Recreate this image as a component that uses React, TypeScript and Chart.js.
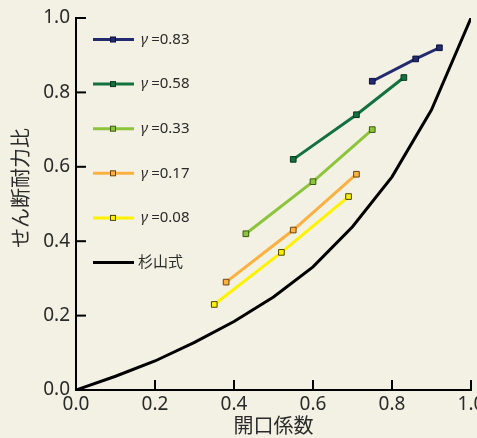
import React, { useEffect, useRef } from 'react';
import { Chart, registerables } from 'chart.js';
Chart.register(...registerables);

// ---- data ----
const gammaLabels = ['0.83', '0.58', '0.33', '0.17', '0.08'];
const g083X = [0.75, 0.86, 0.92];
const g083Y = [0.83, 0.89, 0.92];
const g058X = [0.55, 0.71, 0.83];
const g058Y = [0.62, 0.74, 0.84];
const g033X = [0.43, 0.6, 0.75];
const g033Y = [0.42, 0.56, 0.7];
const g017X = [0.38, 0.55, 0.71];
const g017Y = [0.29, 0.43, 0.58];
const g008X = [0.35, 0.52, 0.69];
const g008Y = [0.23, 0.37, 0.52];
const sugiyamaLabel = '杉山式';
const sugiyamaX = [0, 0.1, 0.2, 0.3, 0.4, 0.5, 0.6, 0.7, 0.8, 0.9, 1.0];
const sugiyamaY = [0, 0.037, 0.078, 0.128, 0.184, 0.25, 0.331, 0.439, 0.573, 0.753, 1.0];
const tickValues = [0, 0.2, 0.4, 0.6, 0.8, 1.0];
const xTitle = '開口係数';
const yTitle = 'せん断耐力比';

// ---- styles ----
const lineColors = ['#232b6e', '#137140', '#8cc43c', '#fbb040', '#fff200'];
const markerBorders = ['#0b1040', '#08361d', '#3c5a10', '#6a4510', '#4a4400'];
const BG = '#f3f1e3';
const FONT = "'Noto Sans', 'Noto Sans CJK JP', sans-serif";
const TEXT = '#2a2a2a';

const toPts = (xs: number[], ys: number[]) => xs.map((x, i) => ({ x, y: ys[i] }));

const seriesX = [g083X, g058X, g033X, g017X, g008X];
const seriesY = [g083Y, g058Y, g033Y, g017Y, g008Y];

const overlayPlugin = {
  id: 'overlay',
  afterDraw(chart: any) {
    const { ctx, chartArea, scales } = chart;
    const xs = scales.x;
    const ys = scales.y;
    ctx.save();
    // inward ticks
    ctx.strokeStyle = '#000';
    ctx.lineWidth = 2;
    tickValues.forEach((v) => {
      if (v === 0) return;
      const px = xs.getPixelForValue(v);
      ctx.beginPath();
      ctx.moveTo(px, chartArea.bottom);
      ctx.lineTo(px, chartArea.bottom - 10);
      ctx.stroke();
      const py = ys.getPixelForValue(v);
      ctx.beginPath();
      ctx.moveTo(chartArea.left, py);
      ctx.lineTo(chartArea.left + 10, py);
      ctx.stroke();
    });
    // legend
    const rowY0 = 39.5;
    const rowStep = 44.6;
    const lx0 = 93;
    const lx1 = 134;
    const items = [...gammaLabels.map((g, i) => ({ g, i })), { g: null as any, i: 5 }];
    items.forEach(({ g, i }) => {
      const y = rowY0 + i * rowStep;
      ctx.beginPath();
      ctx.strokeStyle = i < 5 ? lineColors[i] : '#000';
      ctx.lineWidth = 3;
      ctx.moveTo(lx0, y);
      ctx.lineTo(lx1, y);
      ctx.stroke();
      ctx.textBaseline = 'middle';
      ctx.textAlign = 'left';
      ctx.fillStyle = TEXT;
      if (i < 5) {
        ctx.fillStyle = lineColors[i];
        ctx.fillRect(110.5, y - 2.5, 5, 5);
        ctx.strokeStyle = markerBorders[i];
        ctx.lineWidth = 1;
        ctx.strokeRect(110.5, y - 2.5, 5, 5);
        ctx.fillStyle = TEXT;
        ctx.font = `italic 15px ${FONT}`;
        ctx.fillText('γ', 141, y);
        const w = ctx.measureText('γ').width;
        ctx.font = `15px ${FONT}`;
        ctx.fillText('=' + g, 141 + w + 3, y);
      } else {
        ctx.font = `15px ${FONT}`;
        ctx.fillText(sugiyamaLabel, 138, y);
      }
    });
    // y title
    ctx.translate(22, 188);
    ctx.rotate(-Math.PI / 2);
    ctx.textAlign = 'center';
    ctx.textBaseline = 'middle';
    ctx.font = `20px ${FONT}`;
    ctx.fillStyle = TEXT;
    ctx.fillText(yTitle, 0, 0);
    ctx.restore();
  },
};

export default function App() {
  const ref = useRef<HTMLCanvasElement | null>(null);
  useEffect(() => {
    if (!ref.current) return;
    const datasets: any[] = seriesX.map((xs, i) => ({
      label: 'γ =' + gammaLabels[i],
      data: toPts(xs, seriesY[i]),
      borderColor: lineColors[i],
      backgroundColor: lineColors[i],
      pointBackgroundColor: lineColors[i],
      pointBorderColor: markerBorders[i],
      pointBorderWidth: 1,
      pointStyle: 'rect',
      pointRadius: 4,
      borderWidth: 3,
      showLine: true,
      tension: 0,
    }));
    datasets.push({
      label: sugiyamaLabel,
      data: toPts(sugiyamaX, sugiyamaY),
      borderColor: '#000',
      backgroundColor: '#000',
      pointRadius: 0,
      borderWidth: 3,
      showLine: true,
      tension: 0,
    });
    const chart = new Chart(ref.current, {
      type: 'scatter',
      data: { datasets },
      options: {
        animation: false,
        responsive: true,
        maintainAspectRatio: false,
        layout: { padding: { top: 18, right: 6, left: 0, bottom: 0 } },
        plugins: { legend: { display: false }, tooltip: { enabled: false } },
        scales: {
          x: {
            type: 'linear',
            min: 0,
            max: 1,
            afterBuildTicks: (s: any) => {
              s.ticks = tickValues.map((v) => ({ value: v }));
            },
            afterFit: (s: any) => {
              s.height = 48;
              s.paddingRight = 0;
              s.paddingLeft = 0;
            },
            grid: { display: false, drawTicks: false },
            border: { display: true, color: '#000', width: 2 },
            ticks: {
              padding: 3,
              color: TEXT,
              font: { family: FONT, size: 19 },
              callback: (v: any) => Number(v).toFixed(1),
              maxRotation: 0,
            },
            title: {
              display: true,
              text: xTitle,
              color: TEXT,
              font: { family: FONT, size: 20, lineHeight: 1 },
              padding: { top: 0, bottom: 1 },
            },
          },
          y: {
            type: 'linear',
            min: 0,
            max: 1,
            afterBuildTicks: (s: any) => {
              s.ticks = tickValues.map((v) => ({ value: v }));
            },
            afterFit: (s: any) => {
              s.width = 76;
            },
            grid: { display: false, drawTicks: false },
            border: { display: true, color: '#000', width: 2 },
            ticks: {
              padding: 6,
              color: TEXT,
              font: { family: FONT, size: 19 },
              callback: (v: any) => Number(v).toFixed(1),
            },
          },
        },
      },
      plugins: [overlayPlugin],
    });
    return () => chart.destroy();
  }, []);
  return (
    <div style={{ position: 'absolute', left: 0, top: 0, width: 477, height: 438, background: BG }}>
      <canvas ref={ref} />
    </div>
  );
}
